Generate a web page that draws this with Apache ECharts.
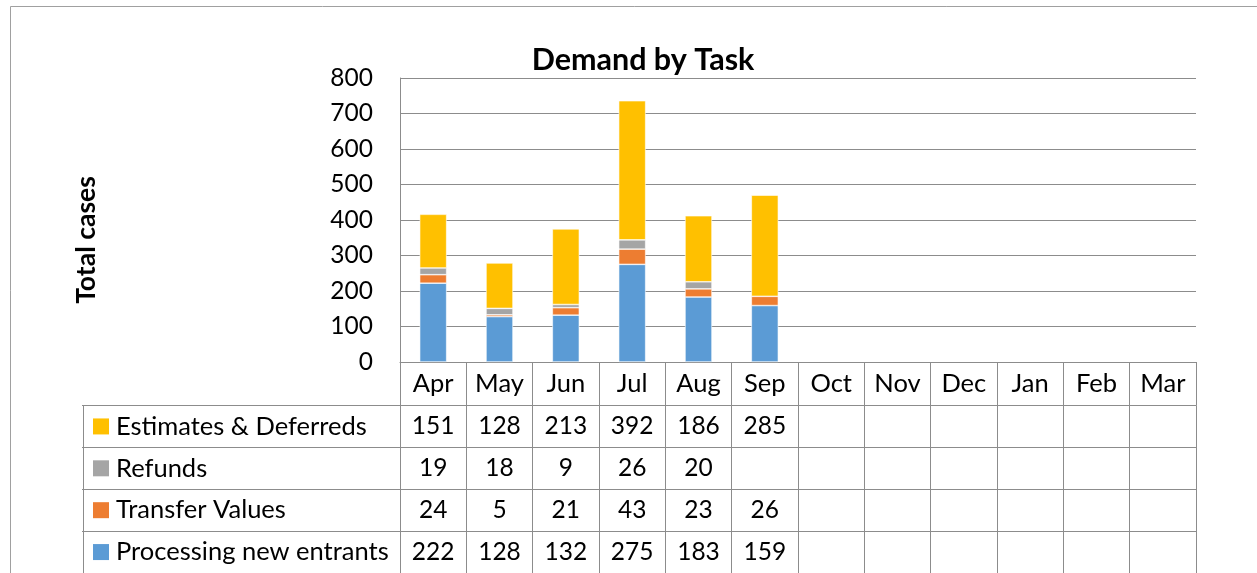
<!DOCTYPE html>
<html>
<head>
<meta charset="utf-8">
<script src="https://cdn.jsdelivr.net/npm/echarts@6/dist/echarts.min.js"></script>
<style>
html,body{margin:0;padding:0;background:#fff;}
#chart{width:1257px;height:573px;}
</style>
</head>
<body>
<div id="chart"></div>
<script>
const months = ['Apr','May','Jun','Jul','Aug','Sep','Oct','Nov','Dec','Jan','Feb','Mar'];
const seriesNames = ['Processing new entrants','Transfer Values','Refunds','Estimates & Deferreds'];
const seriesColors = ['#5b9bd5','#ed7d31','#a5a5a5','#ffc000'];
const processingNewEntrants = [222,128,132,275,183,159,null,null,null,null,null,null];
const transferValues = [24,5,21,43,23,26,null,null,null,null,null,null];
const refunds = [19,18,9,26,20,null,null,null,null,null,null,null];
const estimatesDeferreds = [151,128,213,392,186,285,null,null,null,null,null,null];
const yTicks = {min:0, max:800, interval:100};

const seriesData = [processingNewEntrants, transferValues, refunds, estimatesDeferreds];
// table rows top to bottom
const tableRows = [3,2,1,0];
const tableRowNames = tableRows.map(i => seriesNames[i]);

const FONT = 'Lato, Carlito, "Open Sans", sans-serif';
const GRID_C = '#8c8c8c';

const barSeries = seriesData.map((d, i) => ({
  name: seriesNames[i],
  type: 'bar',
  stack: 'total',
  xAxisIndex: 0, yAxisIndex: 0,
  barWidth: 27,
  itemStyle: {color: seriesColors[i], borderColor: '#ffffff', borderWidth: 0.6},
  data: d
}));

const cellData = [];
tableRows.forEach((si, r) => {
  seriesData[si].forEach((v, m) => {
    if (v !== null && v !== undefined) cellData.push([m, r, v]);
  });
});

const rich = {t: {fontFamily: FONT, fontSize: 25.5, color: '#000', padding: [0,0,0,7]}};
seriesColors.forEach((c, i) => { rich['s' + i] = {width: 16, height: 16, backgroundColor: c}; });

const chart = echarts.init(document.getElementById('chart'), null, {renderer: 'canvas'});
chart.setOption({
  animation: false,
  backgroundColor: '#fff',
  textStyle: {fontFamily: FONT},
  graphic: [{
    type: 'rect', silent: true, z: -1,
    shape: {x: 10.5, y: 6.5, width: 1300, height: 700},
    style: {fill: 'none', stroke: '#a0a0a0', lineWidth: 1}
  }],
  title: {
    text: 'Demand by Task',
    left: 638, top: 40, textAlign: 'center',
    textStyle: {fontFamily: FONT, fontSize: 30.5, fontWeight: 'bold', color: '#000'}
  },
  grid: [
    {left: 400, right: 61, top: 78, height: 284},
    {left: 400, right: 61, top: 405.5, height: 173.5}
  ],
  xAxis: [
    {
      type: 'category', gridIndex: 0, data: months, position: 'bottom',
      axisLine: {show: true, lineStyle: {color: GRID_C, width: 1}},
      axisTick: {show: true, length: 43.5, alignWithLabel: false, lineStyle: {color: GRID_C}},
      axisLabel: {fontFamily: FONT, fontSize: 25.5, color: '#000', margin: 22, verticalAlign: 'middle', interval: 0},
      splitLine: {show: false}
    },
    {
      type: 'category', gridIndex: 1, data: months, position: 'top',
      axisLine: {show: true, lineStyle: {color: GRID_C}},
      axisTick: {show: false},
      axisLabel: {show: false},
      splitLine: {show: true, interval: 0, lineStyle: {color: GRID_C}}
    }
  ],
  yAxis: [
    {
      type: 'value', gridIndex: 0, min: yTicks.min, max: yTicks.max, interval: yTicks.interval,
      axisLine: {show: true, lineStyle: {color: GRID_C}},
      axisTick: {show: false},
      axisLabel: {fontFamily: FONT, fontSize: 24.5, color: '#000', margin: 27},
      splitLine: {show: true, lineStyle: {color: GRID_C, width: 1}},
      name: 'Total cases', nameLocation: 'middle', nameRotate: 90, nameGap: 300,
      nameTextStyle: {fontFamily: FONT, fontSize: 26.5, fontWeight: 'bold', color: '#000', padding: [0, 40, 0, 0]}
    },
    {
      type: 'category', gridIndex: 1, data: tableRowNames, inverse: true,
      axisLine: {show: true, lineStyle: {color: GRID_C}},
      axisTick: {show: true, length: 318, alignWithLabel: false, interval: 0, lineStyle: {color: GRID_C}},
      axisLabel: {
        show: true, interval: 0, align: 'left', margin: 307,
        formatter: (v) => '{s' + seriesNames.indexOf(v) + '|}{t|' + v + '}',
        rich: rich
      },
      splitLine: {show: true, interval: 0, lineStyle: {color: GRID_C}}
    },
    {
      type: 'category', gridIndex: 1, data: tableRowNames, inverse: true, position: 'left', offset: 317,
      axisLine: {show: true, lineStyle: {color: GRID_C}},
      axisTick: {show: false}, axisLabel: {show: false}, splitLine: {show: false}
    }
  ],
  series: barSeries.concat([{
    name: 'table', type: 'scatter', xAxisIndex: 1, yAxisIndex: 1,
    symbolSize: 0, silent: true,
    itemStyle: {opacity: 1},
    label: {
      show: true, position: 'inside',
      formatter: (p) => String(p.value[2]),
      fontFamily: FONT, fontSize: 24.5, color: '#000'
    },
    data: cellData
  }])
});
</script>
</body>
</html>
